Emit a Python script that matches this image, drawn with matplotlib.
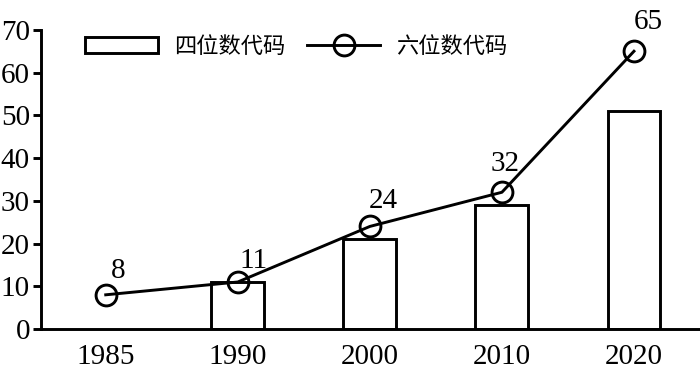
import numpy as np
import matplotlib
matplotlib.use('Agg')
import matplotlib.pyplot as plt

# data
years = ['1985', '1990', '2000', '2010', '2020']
four_digit = [0, 11, 21, 29, 51]
six_digit = [8, 11, 24, 32, 65]
label_four = '四位数代码'
label_six = '六位数代码'

plt.rcParams['font.family'] = ['Liberation Serif', 'Noto Sans CJK SC']

fig = plt.figure(figsize=(7, 3.83), dpi=100)
ax = fig.add_axes([0.0586, 0.141, 0.9414, 0.781])

x = np.arange(len(years))
lw = 2.1
bar_x = [i for i, v in zip(x, four_digit) if v > 0]
bar_h = [v for v in four_digit if v > 0]
bars = ax.bar(bar_x, bar_h, width=0.4, facecolor='white', edgecolor='black',
              linewidth=lw, label=label_four, zorder=2)
line, = ax.plot(x, six_digit, color='black', linewidth=lw, marker='o', markersize=15,
                markerfacecolor='none', markeredgewidth=lw, label=label_six, zorder=3)

offsets = [(9, 17), (11, 15), (10, 18), (2, 20), (10, 21)]
for xi, yi, off in zip(x, six_digit, offsets):
    ax.annotate(str(yi), (xi, yi), xytext=off, textcoords='offset points',
                ha='center', va='center', fontsize=21)

ax.set_xlim(-0.49, 4.5)
ax.set_ylim(0, 70)
ax.set_yticks(range(0, 71, 10))
ax.set_xticks(x)
ax.set_xticklabels(years)
ax.tick_params(axis='y', direction='out', length=6, width=lw, labelsize=21, pad=2)
ax.tick_params(axis='x', length=0, labelsize=21, pad=11)
for s in ['top', 'right']:
    ax.spines[s].set_visible(False)
for s in ['left', 'bottom']:
    ax.spines[s].set_linewidth(lw)

ax.legend([bars, line], [label_four, label_six], loc='upper left',
          bbox_to_anchor=(0.036, 1.05), ncol=2, frameon=False,
          prop={'family': 'Noto Sans CJK SC', 'size': 16},
          handlelength=3.3, handleheight=0.7, columnspacing=1.0, handletextpad=0.7)

fig.savefig('out.png', dpi=100)
